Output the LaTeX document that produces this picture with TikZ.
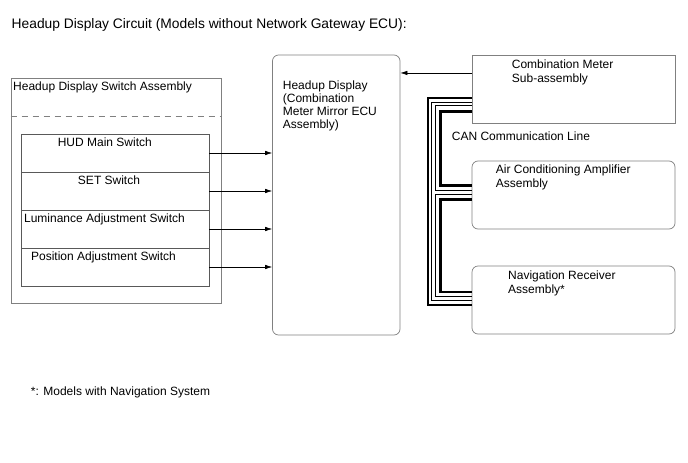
\documentclass[tikz,border=0pt]{standalone}
\usepackage{fontspec}
\setmainfont{Liberation Sans}
\usetikzlibrary{arrows.meta,calc}

\begin{document}
\begin{tikzpicture}[x=1pt,y=-1pt,
		font=\fontsize{12}{14}\selectfont,
		box/.style={draw=black!50,line width=0.7pt,minimum width=203pt,minimum height=68pt,inner sep=0pt},
		rbox/.style={box,rounded corners=6pt},
		swrow/.style={draw=black!65,line width=0.7pt,minimum width=188pt,minimum height=38pt,inner sep=0pt},
		txt/.style={anchor=north west,inner sep=0pt,align=left},
		sig/.style={line width=0.6pt,-{Latex[length=7pt,width=4.5pt]}},
		canthick/.style={line width=2.5pt},
		canthin/.style={line width=0.7pt}]
		\useasboundingbox (0,0) rectangle (688,463);
		\node[anchor=base west,inner sep=0pt,font=\fontsize{13.8}{16}\selectfont] (title) at (11.5,28.3) {Headup Display Circuit (Models without Network Gateway ECU):};
		\node[box,minimum width=210pt,minimum height=225pt] (swasm) at (116,190.5) {};
		\node[anchor=base west,inner sep=0pt] (swname) at (13,90.5) {Headup Display Switch Assembly};
		\draw[draw=black!50,line width=0.7pt,dash pattern=on 6pt off 5pt] (swasm.west |- 0,116) -- (swasm.east |- 0,116);
		\node[swrow] (mainsw) at (115,153) {};
		\node[swrow] (setsw) at (115,191) {};
		\node[swrow] (lumsw) at (115,229) {};
		\node[swrow] (possw) at (115,267) {};
		\node[anchor=base,inner sep=0pt] at (104.8,146) {HUD Main Switch};
		\node[anchor=base,inner sep=0pt] at (109,184) {SET Switch};
		\node[anchor=base,inner sep=0pt] at (104.5,222) {Luminance Adjustment Switch};
		\node[anchor=base,inner sep=0pt] at (103.5,260) {Position Adjustment Switch};
		\node[rbox,minimum width=127.5pt,minimum height=280pt] (hud) at (336.25,195) {};
		\node[txt,font=\fontsize{12}{13.1}\selectfont] (hudname) at (282.7,80.2) {Headup Display\\(Combination\\Meter Mirror ECU\\Assembly)};
		\node[box] (comb) at (573.5,89) {};
		\node[txt] (combname) at (511.7,59.5) {Combination Meter\\Sub-assembly};
		\node[rbox] (acamp) at (573.5,195) {};
		\node[txt] (acname) at (495.7,164.5) {Air Conditioning Amplifier\\Assembly};
		\node[rbox] (nav) at (573.5,300) {};
		\node[txt] (navname) at (508,270.5) {Navigation Receiver\\Assembly*};
		\node[anchor=base west,inner sep=0pt] (canname) at (451.7,140.7) {CAN Communication Line};
		\foreach \sw in {mainsw,setsw,lumsw,possw}
			\draw[sig] (\sw.east) -- (\sw.east -| hud.west);
		\coordinate (cmout) at ($(comb.north west)+(0,18.3)$);
		\draw[sig] (cmout) -- (cmout -| hud.east);
		\draw[canthick] (comb.west |- 0,98) -| (428,305) -- (nav.west |- 0,305);
		\draw[canthin] (comb.west |- 0,102) -| (431.5,300) -- (nav.west |- 0,300);
		\draw[canthin] (comb.west |- 0,105.5) -| (435,190) -- (acamp.west |- 0,190);
		\draw[canthick] (comb.west |- 0,111.5) -| (440.5,185.5) -- (acamp.west |- 0,185.5);
		\draw[canthin] (acamp.west |- 0,194) -| (435,296) -- (nav.west |- 0,296);
		\draw[canthick] (acamp.west |- 0,199.5) -| (440.5,292) -- (nav.west |- 0,292);
		\node[anchor=base west,inner sep=0pt] (note) at (30.7,395.3) {*: Models with Navigation System};
	\end{tikzpicture}
\end{document}
